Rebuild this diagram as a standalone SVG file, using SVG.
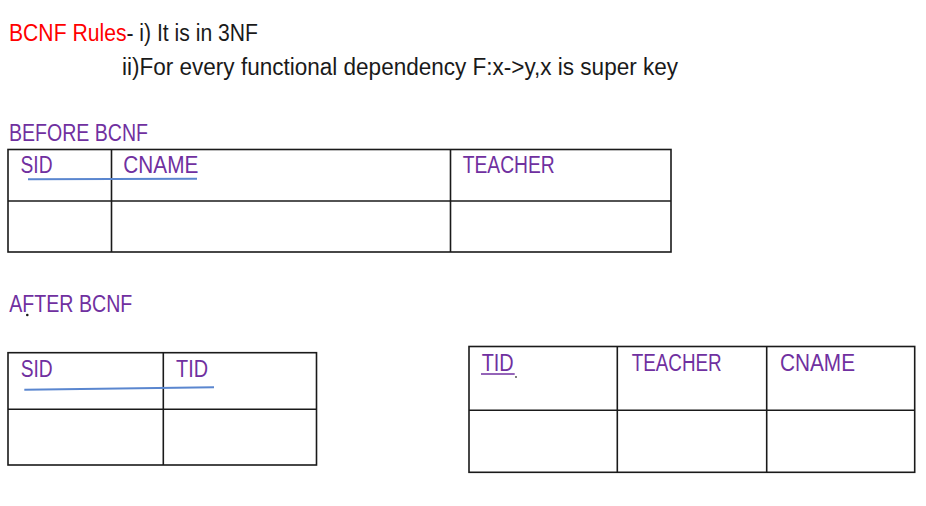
<svg xmlns="http://www.w3.org/2000/svg" width="926" height="506" viewBox="0 0 926 506">
<style>
text{font-family:"Liberation Sans","DejaVu Sans",sans-serif;font-size:23px}
.red{fill:#ff0000}
.blk{fill:#1a1a1a}
.pur{fill:#7030a0}
.grid{fill:none;stroke:#1a1a1a;stroke-width:1.6}
.key{stroke:#5a86cf;stroke-width:2;fill:none}
</style>
<rect width="926" height="506" fill="#ffffff"/>
<g id="rules">
<text x="9" y="41" class="blk" textLength="249" lengthAdjust="spacingAndGlyphs"><tspan class="red">BCNF Rules</tspan>- i) It is in 3NF</text>
<text x="122" y="74.5" class="blk" textLength="556" lengthAdjust="spacingAndGlyphs">ii)For every functional dependency F:x-&gt;y,x is super key</text>
</g>
<g id="before-label">
<text x="9" y="141" class="pur" textLength="139" lengthAdjust="spacingAndGlyphs">BEFORE BCNF</text>
</g>
<g id="table-before">
<rect class="grid" x="8" y="149.5" width="663" height="102.5"/>
<line class="grid" x1="8" y1="201" x2="671" y2="201"/>
<line class="grid" x1="111.5" y1="149.5" x2="111.5" y2="252"/>
<line class="grid" x1="450.5" y1="149.5" x2="450.5" y2="252"/>
<text x="20.5" y="173.3" class="pur" textLength="32" lengthAdjust="spacingAndGlyphs">SID</text>
<text x="123.3" y="173.3" class="pur" textLength="75" lengthAdjust="spacingAndGlyphs">CNAME</text>
<text x="462.7" y="173.3" class="pur" textLength="92" lengthAdjust="spacingAndGlyphs">TEACHER</text>
<line class="key" x1="28" y1="179.3" x2="197" y2="178.7"/>
</g>
<g id="after-label">
<text x="9.3" y="311.7" class="pur" textLength="123" lengthAdjust="spacingAndGlyphs">AFTER BCNF</text>
<circle cx="27.3" cy="315" r="1.3" fill="#1a1a1a"/>
</g>
<g id="table-sid-tid">
<rect class="grid" x="8" y="352.7" width="308.5" height="112.3"/>
<line class="grid" x1="8" y1="409.3" x2="316.5" y2="409.3"/>
<line class="grid" x1="163.3" y1="352.7" x2="163.3" y2="465"/>
<text x="20.7" y="377.3" class="pur" textLength="32" lengthAdjust="spacingAndGlyphs">SID</text>
<text x="176" y="377.3" class="pur" textLength="32" lengthAdjust="spacingAndGlyphs">TID</text>
<line class="key" x1="24.3" y1="389.7" x2="214" y2="387.3"/>
</g>
<g id="table-tid-teacher-cname">
<rect class="grid" x="469" y="346.5" width="445.7" height="125.8"/>
<line class="grid" x1="469" y1="410.3" x2="914.7" y2="410.3"/>
<line class="grid" x1="617.3" y1="346.5" x2="617.3" y2="472.3"/>
<line class="grid" x1="766.7" y1="346.5" x2="766.7" y2="472.3"/>
<text x="481.7" y="371" class="pur" textLength="32" lengthAdjust="spacingAndGlyphs">TID</text>
<line x1="481" y1="374" x2="514.7" y2="374" stroke="#7030a0" stroke-width="1.5"/>
<circle cx="516" cy="377" r="0.9" fill="#444444"/>
<text x="631.7" y="371" class="pur" textLength="90" lengthAdjust="spacingAndGlyphs">TEACHER</text>
<text x="780" y="371" class="pur" textLength="75" lengthAdjust="spacingAndGlyphs">CNAME</text>
</g>
<g id="connectors"/>
</svg>
